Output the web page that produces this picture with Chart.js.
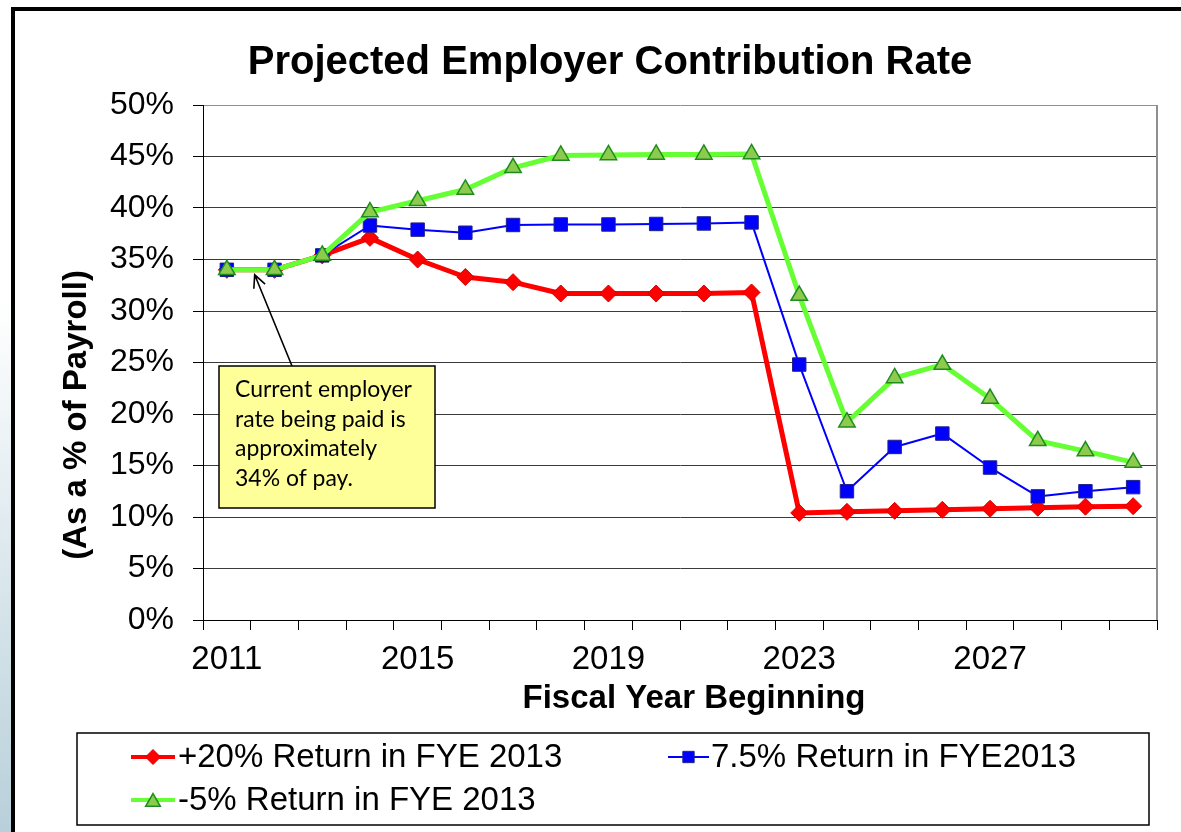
<!DOCTYPE html>
<html>
<head>
<meta charset="utf-8">
<script src="https://cdn.jsdelivr.net/npm/chart.js@4.4.1/dist/chart.umd.min.js"></script>
<style>
html,body{margin:0;padding:0;background:#fff;overflow:hidden}
#wrap{position:relative;width:1181px;height:832px}
canvas{display:block}
</style>
</head>
<body>
<div id="wrap"><canvas id="c" width="1181" height="832"></canvas></div>
<script>
// ---- data ----
const years = ['2011','2012','2013','2014','2015','2016','2017','2018','2019','2020',
               '2021','2022','2023','2024','2025','2026','2027','2028','2029','2030'];
const shownYearLabels = ['2011','2015','2019','2023','2027'];
const seriesNames = ['+20% Return in FYE 2013','7.5% Return in FYE2013','-5% Return in FYE 2013'];
const returnPlus20 = [34.0,34.0,35.4,37.1,35.0,33.3,32.8,31.7,31.7,31.7,31.7,31.8,
                      10.4,10.5,10.6,10.7,10.8,10.9,11.0,11.05];
const return7_5   = [34.0,34.0,35.4,38.3,37.9,37.6,38.35,38.4,38.4,38.45,38.5,38.6,
                      24.8,12.5,16.8,18.1,14.8,12.0,12.5,12.9];
const returnMinus5 = [34.0,34.0,35.4,39.6,40.7,41.8,43.9,45.1,45.15,45.2,45.2,45.25,
                      31.5,19.2,23.5,24.8,21.5,17.4,16.4,15.3];
const yMin = 0, yMax = 50, yStep = 5;
const chartTitle = 'Projected Employer Contribution Rate';
const xTitle = 'Fiscal Year Beginning';
const yTitle = '(As a % of Payroll)';
const noteLines = ['Current employer','rate being paid is','approximately','34% of pay.'];
const noteValue = 34;

const FONT = "'Liberation Sans', Arial, sans-serif";

const decor = {
  id: 'decor',
  beforeDraw(chart) {
    const ctx = chart.ctx;
    ctx.save();
    ctx.fillStyle = '#fff';
    ctx.fillRect(0, 0, chart.width, chart.height);
    const g = ctx.createLinearGradient(0, 0, 0, chart.height);
    g.addColorStop(0, '#ffffff');
    g.addColorStop(0.36, '#ffffff');
    g.addColorStop(1, '#b8d0da');
    ctx.fillStyle = g;
    ctx.fillRect(0, 0, 11, chart.height);
    ctx.fillStyle = '#000';
    ctx.fillRect(11, 7, chart.width - 11, 4);
    ctx.fillRect(11, 7, 4, chart.height - 7);
    ctx.restore();
  },
  beforeDatasetsDraw(chart) {
    const ctx = chart.ctx, a = chart.chartArea;
    ctx.save();
    ctx.strokeStyle = '#8f8f8f';
    ctx.lineWidth = 2;
    ctx.beginPath();
    ctx.moveTo(a.right, a.top);
    ctx.lineTo(a.right, a.bottom);
    ctx.stroke();
    ctx.restore();
  },
  afterDraw(chart) {
    const ctx = chart.ctx, a = chart.chartArea;
    const xs = chart.scales.x, ys = chart.scales.y;
    ctx.save();
    ctx.fillStyle = '#000';
    ctx.textBaseline = 'alphabetic';
    ctx.textAlign = 'center';
    ctx.font = "bold 40px " + FONT;
    ctx.fillText(chartTitle, 610, 74);
    ctx.font = "bold 33px " + FONT;
    ctx.fillText(xTitle, 694, 708);
    ctx.save();
    ctx.translate(86, 415);
    ctx.rotate(-Math.PI / 2);
    ctx.fillText(yTitle, 0, 0);
    ctx.restore();

    // annotation
    const bx = a.left + 16, by = a.top + 261, bw = 216, bh = 142;
    const tipX = (xs.getPixelForValue(0) + xs.getPixelForValue(1)) / 2 + 4;
    const tipY = ys.getPixelForValue(noteValue) + 5;
    const tailX = bx + 73, tailY = by;
    ctx.strokeStyle = '#000';
    ctx.lineWidth = 1.6;
    ctx.beginPath();
    ctx.moveTo(tailX, tailY);
    ctx.lineTo(tipX, tipY);
    const ang = Math.atan2(tailY - tipY, tailX - tipX);
    const hl = 14, spread = 0.45;
    ctx.moveTo(tipX + hl * Math.cos(ang - spread), tipY + hl * Math.sin(ang - spread));
    ctx.lineTo(tipX, tipY);
    ctx.lineTo(tipX + hl * Math.cos(ang + spread), tipY + hl * Math.sin(ang + spread));
    ctx.stroke();

    ctx.fillStyle = '#FFFF99';
    ctx.fillRect(bx, by, bw, bh);
    ctx.lineWidth = 1.5;
    ctx.strokeRect(bx, by, bw, bh);
    ctx.font = "22px Lato, 'Open Sans', sans-serif";
    const w22 = ctx.measureText(noteLines[0]).width;
    const fs = 22 * 177 / w22;
    ctx.font = fs.toFixed(2) + "px Lato, 'Open Sans', sans-serif";
    ctx.fillStyle = '#000';
    ctx.textAlign = 'left';
    ctx.textBaseline = 'middle';
    noteLines.forEach((t, i) => ctx.fillText(t, bx + 16, by + 24 + i * 29.4));

    // legend
    const lx = 77, ly = 733, lw = 1072, lh = 92;
    ctx.fillStyle = '#fff';
    ctx.fillRect(lx, ly, lw, lh);
    ctx.strokeStyle = '#000';
    ctx.lineWidth = 1.5;
    ctx.strokeRect(lx, ly, lw, lh);
    const items = [
      {i: 0, x0: 131, x1: 175, tx: 178, y: 757, lw: 4, r: 7.5},
      {i: 1, x0: 668, x1: 709, tx: 711, y: 757, lw: 2, r: 8},
      {i: 2, x0: 131, x1: 175, tx: 178, y: 800, lw: 4, r: 8.5}
    ];
    ctx.font = "33px " + FONT;
    items.forEach(it => {
      const ds = chart.data.datasets[it.i];
      ctx.strokeStyle = ds.borderColor;
      ctx.lineWidth = it.lw;
      ctx.beginPath();
      ctx.moveTo(it.x0, it.y);
      ctx.lineTo(it.x1, it.y);
      ctx.stroke();
      ctx.fillStyle = ds.pointBackgroundColor;
      ctx.strokeStyle = ds.pointBorderColor;
      ctx.lineWidth = ds.pointBorderWidth;
      Chart.helpers.drawPoint(ctx, {pointStyle: ds.pointStyle, radius: it.r, borderWidth: ds.pointBorderWidth, rotation: 0},
        (it.x0 + it.x1) / 2, it.y + (ds.pointStyle === 'triangle' ? 2 : 0));
      ctx.fillStyle = '#000';
      ctx.textAlign = 'left';
      ctx.textBaseline = 'middle';
      ctx.fillText(seriesNames[it.i], it.tx, it.y + 1);
    });
    ctx.restore();
  }
};

new Chart(document.getElementById('c'), {
  type: 'line',
  data: {
    labels: years,
    datasets: [
      {label: seriesNames[0], data: returnPlus20, order: 3,
       borderColor: '#FF0000', borderWidth: 5, pointStyle: 'rectRot', pointRadius: 8.5,
       pointBackgroundColor: '#FF0000', pointBorderColor: '#D40000', pointBorderWidth: 1},
      {label: seriesNames[1], data: return7_5, order: 2,
       borderColor: '#0000FF', borderWidth: 2, pointStyle: 'rect', pointRadius: 9.5,
       pointBackgroundColor: '#0000FF', pointBorderColor: '#20208a', pointBorderWidth: 1},
      {label: seriesNames[2], data: returnMinus5, order: 1,
       borderColor: '#66FF33', borderWidth: 5, pointStyle: 'triangle', pointRadius: 9.5,
       pointBackgroundColor: '#8DCB4E', pointBorderColor: '#1E8C1E', pointBorderWidth: 1.5}
    ]
  },
  options: {
    responsive: false,
    animation: false,
    events: [],
    layout: {padding: {top: 105, left: 0, right: 24, bottom: 152}},
    plugins: {legend: {display: false}, title: {display: false}, tooltip: {enabled: false}},
    elements: {line: {tension: 0, borderJoinStyle: 'round'}},
    scales: {
      x: {
        type: 'category',
        offset: true,
        afterFit(s) { s.height = 60; },
        grid: {offset: true, drawOnChartArea: false, drawTicks: true, tickLength: 10, color: '#000', tickColor: '#000'},
        border: {color: '#000', width: 1},
        ticks: {
          autoSkip: false, maxRotation: 0, padding: 10, color: '#000',
          font: {family: FONT, size: 33},
          callback(v, i) { const l = years[i]; return shownYearLabels.includes(l) ? l : ''; }
        }
      },
      y: {
        min: yMin, max: yMax,
        afterFit(s) { s.width = 203; },
        grid: {
          color: (c) => c.tick && c.tick.value === yMax ? '#8f8f8f' : '#3a3a3a',
          lineWidth: 1, tickLength: 10, tickColor: '#000'
        },
        border: {color: '#000', width: 1},
        ticks: {
          stepSize: yStep, padding: 19, color: '#000',
          font: {family: FONT, size: 32},
          callback: (v) => v + '%'
        }
      }
    }
  },
  plugins: [decor]
});
</script>
</body>
</html>
